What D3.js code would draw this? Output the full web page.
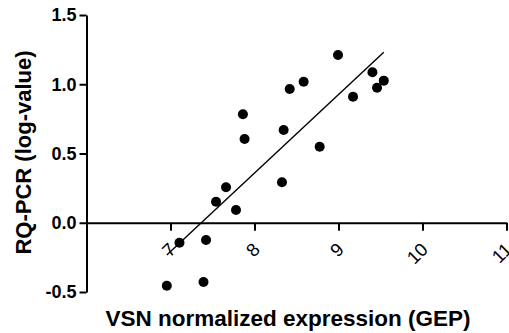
<!DOCTYPE html>
<html>
<head>
<meta charset="utf-8">
<script src="https://cdn.jsdelivr.net/npm/d3@7"></script>
<style>
  html, body { margin: 0; padding: 0; background: #fff; }
  svg { display: block; }
  text { font-family: Arial, "Liberation Sans", sans-serif; font-weight: bold; fill: #000; }
</style>
</head>
<body>
<svg id="chart" width="509" height="333"></svg>
<script>
// VSN normalized expression (GEP) per sample
const gepValues = [6.956, 7.107, 7.393, 7.423, 7.542, 7.661, 7.780, 7.862, 7.882, 8.327,
                   8.347, 8.419, 8.585, 8.776, 8.994, 9.173, 9.404, 9.459, 9.539];
// RQ-PCR (log-value) per sample
const rqValues  = [-0.455, -0.144, -0.428, -0.125, 0.152, 0.256, 0.092, 0.783, 0.605, 0.292,
                   0.670, 0.966, 1.018, 0.549, 1.211, 0.910, 1.086, 0.975, 1.026];
const xTicks = [7, 8, 9, 10, 11];
const yTicks = [-0.5, 0.0, 0.5, 1.0, 1.5];
const xDomain = [6, 11];
const yDomain = [-0.5, 1.5];
const xTitle = "VSN normalized expression (GEP)";
const yTitle = "RQ-PCR (log-value)";

const svg = d3.select("#chart");
const x = d3.scaleLinear().domain(xDomain).range([86.5, 506.5]);
const y = d3.scaleLinear().domain(yDomain).range([292, 15]);

// Least-squares fit line
const n = gepValues.length;
const mx = d3.mean(gepValues), my = d3.mean(rqValues);
let sxy = 0, sxx = 0;
for (let i = 0; i < n; i++) {
  sxy += (gepValues[i] - mx) * (rqValues[i] - my);
  sxx += (gepValues[i] - mx) ** 2;
}
const slope = sxy / sxx, intercept = my - slope * mx;
const [x0, x1] = d3.extent(gepValues);

// y axis (left)
const yAxis = svg.append("g")
  .attr("transform", `translate(${x(xDomain[0])},0)`)
  .call(d3.axisLeft(y).tickValues(yTicks).tickSize(7).tickSizeOuter(0).tickPadding(3)
        .tickFormat(d => d.toFixed(1)));
yAxis.selectAll("text").style("font-size", "18px");

// x axis crossing at y = 0
const xAxis = svg.append("g")
  .attr("transform", `translate(0,${y(0)})`)
  .call(d3.axisBottom(x).tickValues(xTicks).tickSize(8).tickSizeOuter(0).tickFormat(d3.format("d")));
xAxis.selectAll("text")
  .style("font-size", "18.5px")
  .style("font-weight", "normal")
  .attr("text-anchor", "end")
  .attr("dy", null)
  .attr("y", 0)
  .attr("transform", "translate(6,28) rotate(-45)");

svg.selectAll(".domain, .tick line").attr("stroke", "#000").attr("stroke-width", 2);

// Regression line
svg.append("line")
  .attr("x1", x(x0)).attr("y1", y(intercept + slope * x0))
  .attr("x2", x(x1)).attr("y2", y(intercept + slope * x1))
  .attr("stroke", "#000").attr("stroke-width", 1.4);

// Data points
svg.append("g").selectAll("circle")
  .data(gepValues.map((g, i) => [g, rqValues[i]]))
  .join("circle")
  .attr("cx", d => x(d[0]))
  .attr("cy", d => y(d[1]))
  .attr("r", 5)
  .attr("fill", "#000");

// Axis titles
svg.append("text")
  .attr("x", 288).attr("y", 326)
  .attr("text-anchor", "middle")
  .style("font-size", "22.5px")
  .text(xTitle);

svg.append("text")
  .attr("transform", "translate(31,152.5) rotate(-90)")
  .attr("text-anchor", "middle")
  .style("font-size", "22px")
  .text(yTitle);
</script>
</body>
</html>
